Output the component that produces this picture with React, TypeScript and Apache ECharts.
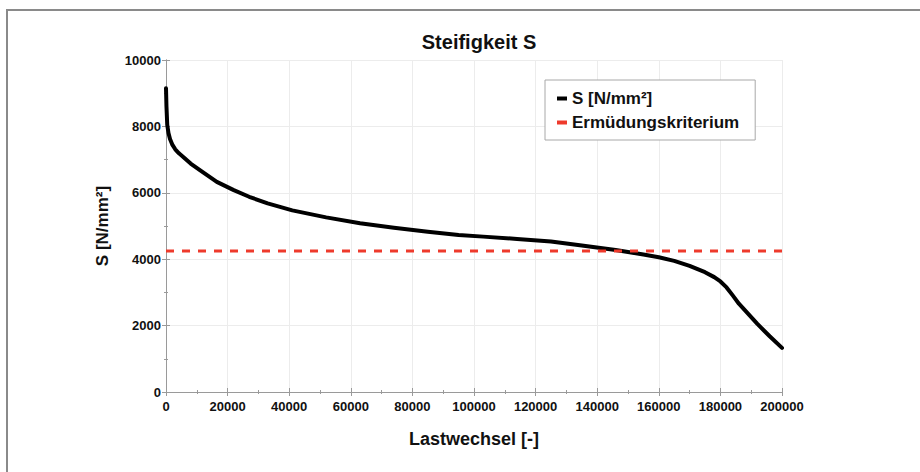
import React, { useEffect, useRef } from "react";
import * as echarts from "echarts";

const titleText = "Steifigkeit S";
const xAxisName = "Lastwechsel [-]";
const yAxisName = "S [N/mm²]";
const seriesNames = ["S [N/mm²]", "Ermüdungskriterium"];

const cycles = [
  0, 150, 400, 800, 1300, 2000, 3000, 4200, 5600, 8000, 11000, 16500, 22000,
  27000, 33000, 41000, 52000, 63000, 74000, 85000, 95000, 103000, 114000,
  125000, 135000, 146000, 155000, 160000, 165000, 170000, 175000, 178000,
  180000, 182000, 184000, 186000, 192000, 196000, 200000,
];
const stiffness = [
  9150, 8600, 8050, 7800, 7620, 7460, 7310, 7190, 7080, 6880, 6680, 6330, 6080,
  5880, 5680, 5470, 5260, 5080, 4950, 4830, 4730, 4680, 4610, 4530, 4410, 4280,
  4140, 4060, 3950, 3800, 3610, 3460, 3330, 3150, 2910, 2660, 2050, 1680, 1330,
];
const criterionX = [0, 200000];
const criterionY = [4250, 4250];

const xMin = 0;
const xMax = 200000;
const xInterval = 20000;
const yMin = 0;
const yMax = 10000;
const yInterval = 2000;

const FONT = "'Liberation Sans', Arial, sans-serif";

export default function App() {
  const ref = useRef<HTMLDivElement>(null);
  useEffect(() => {
    if (!ref.current) return;
    const chart = echarts.init(ref.current, null, { renderer: "svg" });
    const axisLineColor = "#9a9a9a";
    const labelStyle = {
      color: "#111",
      fontFamily: FONT,
      fontWeight: "bold" as const,
      fontSize: 13,
      formatter: (v: number) => String(v),
    };
    const baseX = {
      type: "value" as const,
      min: xMin,
      max: xMax,
      interval: xInterval,
      minorTick: { show: true, splitNumber: 2, length: 2, lineStyle: { color: axisLineColor } },
      axisTick: { show: true, inside: true, length: 4, lineStyle: { color: axisLineColor } },
      axisLine: { show: true, lineStyle: { color: axisLineColor, width: 1 } },
    };
    const baseY = {
      type: "value" as const,
      min: yMin,
      max: yMax,
      interval: yInterval,
      minorTick: { show: true, splitNumber: 2, length: 2, lineStyle: { color: axisLineColor } },
      axisTick: { show: true, inside: true, length: 4, lineStyle: { color: axisLineColor } },
      axisLine: { show: true, lineStyle: { color: axisLineColor, width: 1 } },
    };
    chart.setOption({
      animation: false,
      backgroundColor: "#ffffff",
      title: {
        text: titleText,
        left: 474,
        textAlign: "center",
        top: 27,
        textStyle: { fontFamily: FONT, fontWeight: "bold", fontSize: 20, color: "#111" },
      },
      grid: { left: 166, right: 138, top: 60, bottom: 80, containLabel: false },
      legend: {
        orient: "vertical",
        left: 545,
        top: 80,
        padding: [10, 16, 9, 12],
        itemGap: 7,
        itemWidth: 10,
        itemHeight: 4,
        icon: "rect",
        backgroundColor: "#ffffff",
        borderColor: "#a8a8a8",
        borderWidth: 1,
        textStyle: { fontFamily: FONT, fontWeight: "bold", fontSize: 17, color: "#111" },
        data: seriesNames,
      },
      xAxis: [
        {
          ...baseX,
          position: "bottom",
          name: xAxisName,
          nameLocation: "middle",
          nameGap: 38,
          nameTextStyle: { fontFamily: FONT, fontWeight: "bold", fontSize: 18, color: "#111" },
          axisLabel: { ...labelStyle, margin: 8 },
          splitLine: { show: true, lineStyle: { color: "#ececec", width: 1 } },
        },
        {
          ...baseX,
          position: "top",
          axisLabel: { show: false },
          splitLine: { show: false },
        },
      ],
      yAxis: [
        {
          ...baseY,
          position: "left",
          name: yAxisName,
          nameLocation: "middle",
          nameGap: 55,
          nameRotate: 90,
          nameTextStyle: { fontFamily: FONT, fontWeight: "bold", fontSize: 17, color: "#111" },
          axisLabel: { ...labelStyle, margin: 5 },
          splitLine: { show: true, lineStyle: { color: "#ececec", width: 1 } },
        },
        {
          ...baseY,
          position: "right",
          axisLabel: { show: false },
          splitLine: { show: false },
        },
      ],
      graphic: [
        {
          type: "line",
          shape: { x1: 7, y1: 10, x2: 7, y2: 472 },
          style: { stroke: "#8a8a8a", lineWidth: 2 },
        },
        {
          type: "line",
          shape: { x1: 6, y1: 10, x2: 920, y2: 10 },
          style: { stroke: "#8a8a8a", lineWidth: 2 },
        },
      ],
      series: [
        {
          name: seriesNames[0],
          type: "line",
          xAxisIndex: 0,
          yAxisIndex: 0,
          data: cycles.map((c, i) => [c, stiffness[i]]),
          smooth: false,
          showSymbol: false,
          color: "#000000",
          lineStyle: { color: "#000000", width: 4, join: "round", cap: "round" },
          z: 3,
        },
        {
          name: seriesNames[1],
          type: "line",
          xAxisIndex: 0,
          yAxisIndex: 0,
          data: criterionX.map((c, i) => [c, criterionY[i]]),
          showSymbol: false,
          color: "#ee3a2c",
          lineStyle: { color: "#ee3a2c", width: 3, type: [8, 8] },
          z: 4,
        },
      ],
    });
    return () => chart.dispose();
  }, []);
  return (
    <div
      ref={ref}
      style={{ position: "fixed", left: 0, top: 0, width: 920, height: 472 }}
    />
  );
}
